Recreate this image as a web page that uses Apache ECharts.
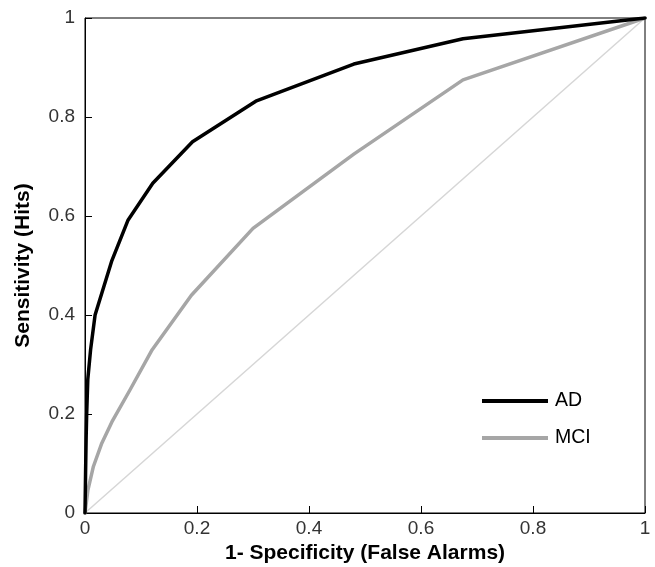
<!DOCTYPE html>
<html>
<head>
<meta charset="utf-8">
<script src="https://cdn.jsdelivr.net/npm/echarts@6/dist/echarts.min.js"></script>
<style>html,body{margin:0;padding:0;background:#fff;}#c{width:655px;height:567px;}</style>
</head>
<body>
<div id="c"></div>
<script>
// 1 - specificity (false alarms) and sensitivity (hits)
const adX  = [0, 0.001, 0.002, 0.003, 0.005, 0.010, 0.018, 0.048, 0.077, 0.121, 0.192, 0.305, 0.480, 0.675, 1];
const adY  = [0, 0.08, 0.15, 0.20, 0.27, 0.33, 0.40, 0.51, 0.592, 0.666, 0.750, 0.832, 0.907, 0.958, 1];
const mciX = [0, 0.005, 0.015, 0.030, 0.048, 0.080, 0.120, 0.190, 0.300, 0.480, 0.675, 1];
const mciY = [0, 0.045, 0.094, 0.141, 0.184, 0.248, 0.330, 0.440, 0.575, 0.725, 0.875, 1];
const chanceX = [0, 1];
const chanceY = [0, 1];
const tickLabels = ['0', '0.2', '0.4', '0.6', '0.8', '1'];

const zip = (xs, ys) => xs.map((x, i) => [x, ys[i]]);
const fmt = v => tickLabels[Math.round(v * 5)] ?? String(v);
const font = 'Liberation Sans, Arial, Helvetica, sans-serif';

const chart = echarts.init(document.getElementById('c'), null, {renderer: 'canvas'});
chart.setOption({
  animation: false,
  backgroundColor: '#fff',
  grid: {left: 85, right: 10, top: 18, bottom: 54, containLabel: false, outerBoundsMode: 'none',
         show: true, borderColor: '#000', borderWidth: 1, backgroundColor: 'transparent'},
  legend: {
    orient: 'vertical', left: 477, top: 386,
    itemWidth: 66, itemHeight: 4, itemGap: 17, icon: 'rect',
    data: ['AD', 'MCI'],
    textStyle: {fontFamily: font, fontSize: 19.5, color: '#000', padding: [0, 0, 0, 2]}
  },
  xAxis: {
    type: 'value', min: 0, max: 1, interval: 0.2,
    name: '1- Specificity (False Alarms)', nameLocation: 'middle', nameGap: 29,
    nameTextStyle: {fontFamily: font, fontSize: 21, fontWeight: 'bold', color: '#000'},
    axisLine: {show: true, lineStyle: {color: '#000', width: 1}},
    axisTick: {show: true, inside: true, length: 7, lineStyle: {color: '#000'}},
    axisLabel: {formatter: fmt, fontFamily: font, fontSize: 19, color: '#333', margin: 6},
    splitLine: {show: false}
  },
  yAxis: {
    type: 'value', min: 0, max: 1, interval: 0.2,
    name: 'Sensitivity (Hits)', nameLocation: 'middle', nameGap: 51,
    nameTextStyle: {fontFamily: font, fontSize: 21, fontWeight: 'bold', color: '#000'},
    axisLine: {show: true, lineStyle: {color: '#000', width: 1}},
    axisTick: {show: true, inside: true, length: 7, lineStyle: {color: '#000'}},
    axisLabel: {formatter: fmt, fontFamily: font, fontSize: 19, color: '#333', margin: 10},
    splitLine: {show: false}
  },
  series: [
    {name: 'chance', type: 'line', data: zip(chanceX, chanceY), showSymbol: false, silent: true,
     lineStyle: {color: '#d6d6d6', width: 1.5}, itemStyle: {color: '#d6d6d6'}},
    {name: 'MCI', type: 'line', data: zip(mciX, mciY), showSymbol: false,
     lineStyle: {color: '#a6a6a6', width: 3.5, cap: 'round', join: 'round'}, itemStyle: {color: '#a6a6a6'}},
    {name: 'AD', type: 'line', data: zip(adX, adY), showSymbol: false,
     lineStyle: {color: '#000', width: 3.5, cap: 'round', join: 'round'}, itemStyle: {color: '#000'}}
  ]
});
</script>
</body>
</html>
